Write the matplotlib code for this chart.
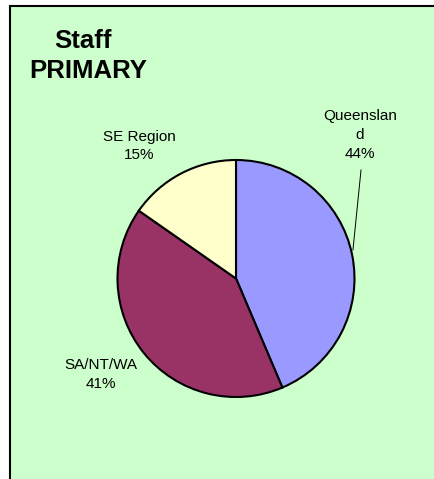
import matplotlib.pyplot as plt
from matplotlib.patches import Rectangle

# data
regions = ['Queenslan\nd', 'SA/NT/WA', 'SE Region']
shares = [43.6, 41.1, 15.3]
colours = ['#9999FF', '#993366', '#FFFFCC']
title_lines = ['Staff', 'PRIMARY']

W, H = 435, 479
fig = plt.figure(figsize=(W / 100, H / 100), dpi=100)
fig.patch.set_facecolor('white')
plt.rcParams['font.family'] = ['Liberation Sans', 'DejaVu Sans']

# green chart area, only left and top border visible
fig.patches.append(Rectangle((10 / W, -0.1), 1.2, 1.1 - 6 / H, transform=fig.transFigure,
                             facecolor='#CCFFCC', edgecolor='black', linewidth=1.5, zorder=-5))

# pie axes: centre (236, 278.5) px, radius 118.5 px
cx, cy, r = 236, 278.5, 118.5
ax = fig.add_axes([(cx - r) / W, (H - cy - r) / H, 2 * r / W, 2 * r / H])
ax.set_zorder(2)

wedges, _ = ax.pie(shares, colors=colours, startangle=90, counterclock=False, radius=1,
                   wedgeprops=dict(edgecolor='black', linewidth=1.5))
# pie() sets its own limits, override them after
ax.set_xlim(-1, 1)
ax.set_ylim(-1, 1)
ax.axis('off')

# data labels (name + percent), placed like the Excel chart
label_pos = [(1.046, 1.211), (-1.139, -0.81), (-0.819, 1.118)]
for name, val, (lx, ly) in zip(regions, shares, label_pos):
    ax.text(lx, ly, f'{name}\n{val:.0f}%', ha='center', va='center', fontsize=11,
            linespacing=1.45, clip_on=False)

# leader line to Queensland slice
ax.plot([1.055, 0.987], [0.916, 0.241], color='black', linewidth=0.7, clip_on=False)

# title
fig.text(83 / W, 1 - 48 / H, title_lines[0], ha='center', va='baseline',
         fontsize=18.5, fontweight='bold')
fig.text(88 / W, 1 - 78 / H, title_lines[1], ha='center', va='baseline',
         fontsize=18.5, fontweight='bold')

fig.savefig('out.png', dpi=100)
